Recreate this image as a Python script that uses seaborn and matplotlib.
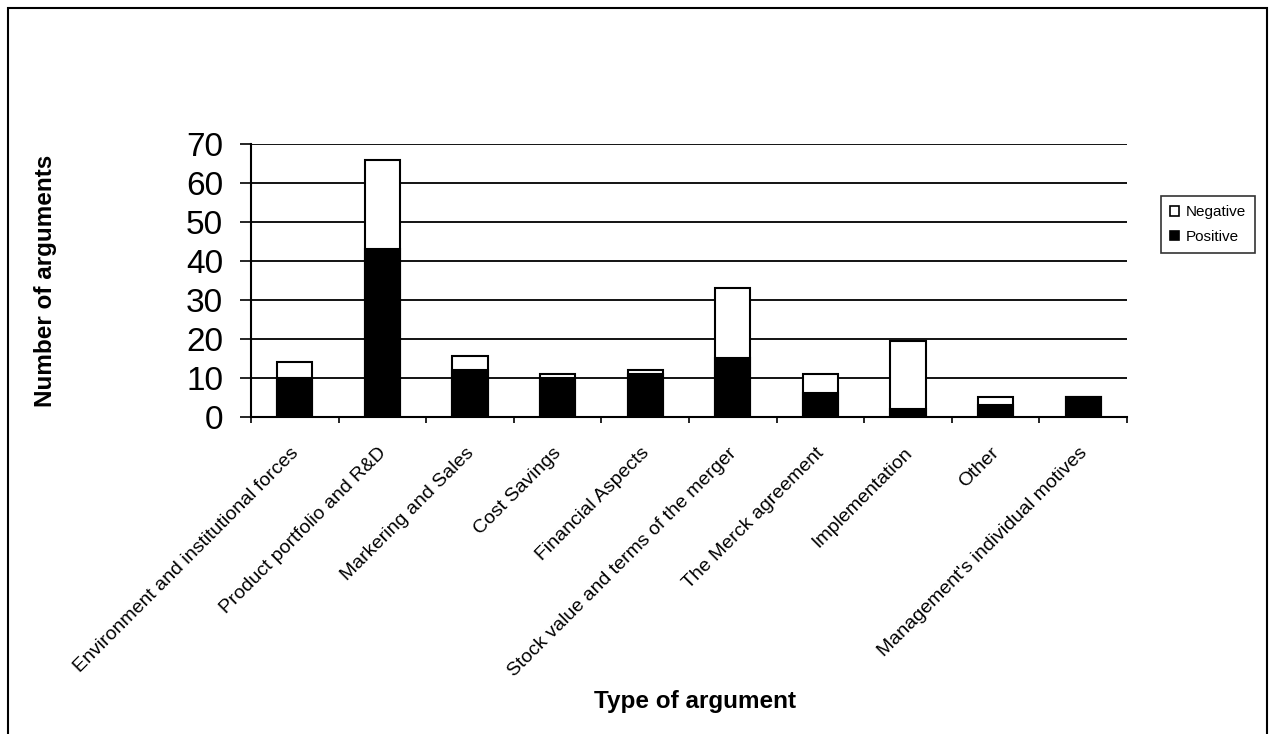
import matplotlib.pyplot as plt
import matplotlib.transforms as mtransforms
from matplotlib.patches import Patch, Rectangle
import numpy as np
import pandas as pd
import seaborn as sns

categories = [
    "Environment and institutional forces",
    "Product portfolio and R&D",
    "Markering and Sales",
    "Cost Savings",
    "Financial Aspects",
    "Stock value and terms of the merger",
    "The Merck agreement",
    "Implementation",
    "Other",
    "Management's individual motives",
]
positive = [10, 43, 12, 10, 11, 15, 6, 2, 3, 5]
negative = [4, 23, 3.5, 1, 1, 18, 5, 17.5, 2, 0]
y_ticks = [0, 10, 20, 30, 40, 50, 60, 70]

sns.set_style("white")
plt.rcParams["font.family"] = ["Liberation Sans", "DejaVu Sans"]
plt.rcParams["text.color"] = "black"
plt.rcParams["axes.labelcolor"] = "black"
plt.rcParams["xtick.color"] = "black"
plt.rcParams["ytick.color"] = "black"

df = pd.DataFrame({"category": categories, "Positive": positive, "Negative": negative})
df["Total"] = df["Positive"] + df["Negative"]

fig = plt.figure(figsize=(12.72, 7.34), dpi=100)
ax = fig.add_axes([251 / 1272, 1 - 416.7 / 734, 876 / 1272, 272.4 / 734])

# stacked look: white total bar behind, black positive part in front
sns.barplot(data=df, x="category", y="Total", color="white", edgecolor="black",
            linewidth=1.5, width=0.4, saturation=1, ax=ax)
sns.barplot(data=df, x="category", y="Positive", color="black", edgecolor="black",
            linewidth=1.5, width=0.4, saturation=1, ax=ax)

ax.set_ylim(0, 70)
ax.set_xlim(-0.5, len(categories) - 0.5)
ax.set_yticks(y_ticks)
ax.set_yticklabels([str(v) for v in y_ticks], fontsize=24)
ax.set_axisbelow(True)
ax.yaxis.grid(True, color="black", linewidth=1.3)
ax.xaxis.grid(False)

# boundary ticks as major, labels on the minor ticks at bar centres
ax.set_xticks(np.arange(-0.5, len(categories), 1))
ax.set_xticklabels([])
ax.set_xticks(np.arange(len(categories)), minor=True)
ax.set_xticklabels(categories, minor=True, rotation=45, ha="right", va="center",
                   rotation_mode="anchor", fontsize=14)
ax.tick_params(axis="x", which="minor", bottom=True, length=0, pad=24.5)
ax.tick_params(axis="x", which="major", bottom=True, length=4, width=1.2,
               direction="out", color="black")
ax.tick_params(axis="y", left=True, length=8, width=1.2, direction="out",
               color="black", pad=12)
offset = mtransforms.ScaledTranslation(1 / 72, 0, fig.dpi_scale_trans)
for lbl in ax.get_xticklabels(minor=True):
    lbl.set_transform(lbl.get_transform() + offset)

for side in ["top", "right"]:
    ax.spines[side].set_visible(False)
for side in ["left", "bottom"]:
    ax.spines[side].set_color("black")
    ax.spines[side].set_linewidth(1.5)

ax.set_ylabel("Number of arguments", fontsize=17.5, fontweight="bold")
ax.yaxis.set_label_coords(-0.235, 0.5)
ax.yaxis.label.set_va("center")
ax.set_xlabel("Type of argument", fontsize=17.5, fontweight="bold")
ax.xaxis.set_label_coords(0.507, -1.046)
ax.xaxis.label.set_va("center")

handles = [
    Patch(facecolor="white", edgecolor="black", linewidth=1.2, label="Negative"),
    Patch(facecolor="black", edgecolor="black", linewidth=1.2, label="Positive"),
]
leg = fig.legend(handles=handles, loc="upper left", bbox_to_anchor=(1161 / 1272, 1 - 196 / 734),
                 bbox_transform=fig.transFigure, frameon=True, fancybox=False,
                 edgecolor="black", fontsize=11, handlelength=0.6, handleheight=0.6,
                 handletextpad=0.4, borderaxespad=0, borderpad=0.6, labelspacing=0.7)
leg.get_frame().set_linewidth(1.2)

# outer chart border (bottom edge runs off the image)
fig.add_artist(Rectangle((8 / 1272, -0.02), 1259 / 1272, 1.02 - 8 / 734,
                         transform=fig.transFigure, fill=False,
                         edgecolor="black", linewidth=1.5))

fig.savefig("out.png", dpi=100)
plt.close(fig)
